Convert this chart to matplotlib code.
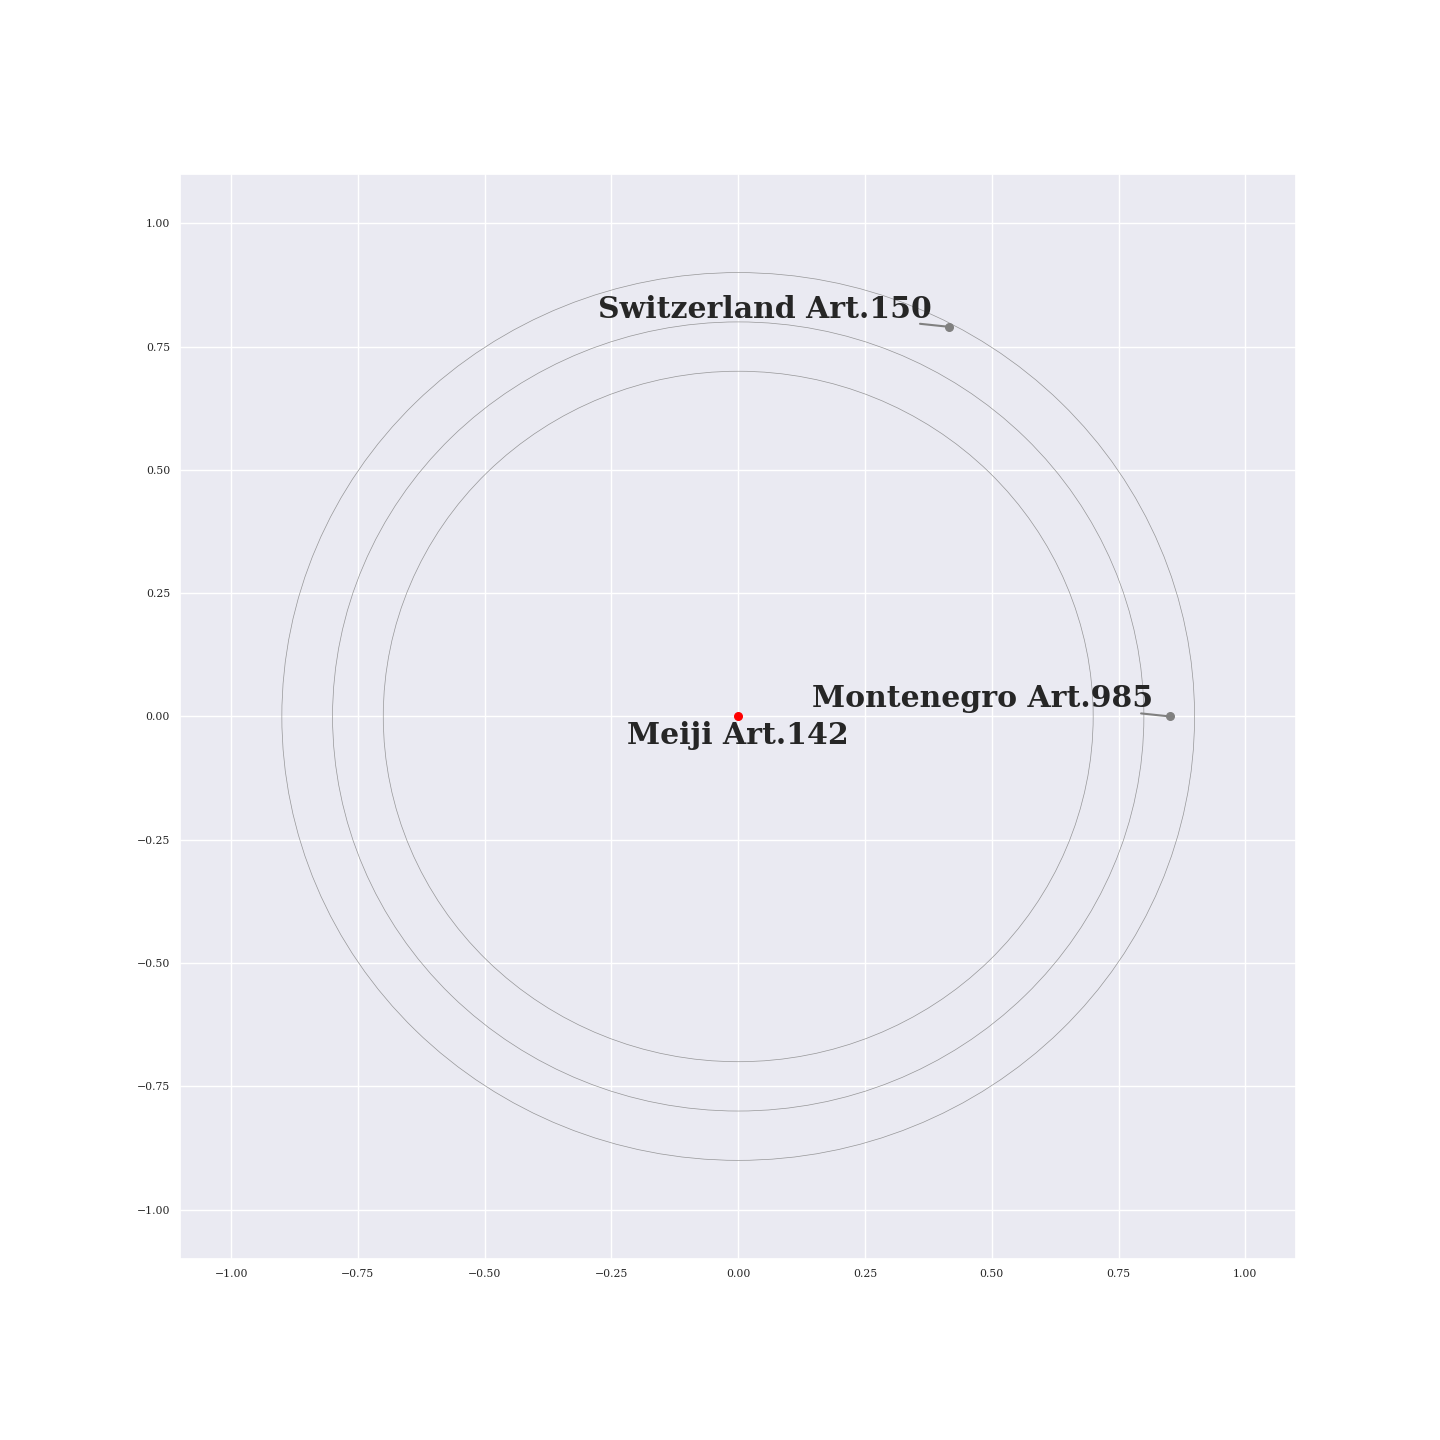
import matplotlib
matplotlib.use("Agg")
import matplotlib.pyplot as plt
import seaborn as sns

# data
center_label = "Meiji Art.142"
names = ["Switzerland Art.150", "Montenegro Art.985"]
xs = [0.416, 0.852]
ys = [0.790, 0.0]
rings = [0.7, 0.8, 0.9]

sns.set_theme(style="darkgrid")
plt.rcParams['font.family'] = ['DejaVu Serif']

fig = plt.figure(figsize=(14.4, 14.4), dpi=100)
ax = fig.add_axes([0.1253, 0.1257, 0.7747, 0.7535])

# rings around the centre
for r in rings:
    ax.add_patch(plt.Circle((0, 0), r, fill=False, color='gray', lw=0.5, alpha=0.8))

# centre point
ax.scatter([0], [0], color='red', s=30, zorder=5)
ax.annotate(center_label, xy=(0, 0), xytext=(-0.5, -20), textcoords='offset points',
            ha='center', va='baseline', fontsize=21.5, fontweight='bold', color='#262626')

# other points, label to the upper left, short leader line
ax.scatter(xs, ys, color='gray', s=30, zorder=5)
for name, x, y in zip(names, xs, ys):
    ax.annotate(name, xy=(x, y), xytext=(-12.2, 6.5), textcoords='offset points',
                ha='right', va='baseline', fontsize=21.5, fontweight='bold', color='#262626')
    ax.annotate('', xy=(x, y), xytext=(-21, 2.2), textcoords='offset points',
                arrowprops=dict(arrowstyle='-', color='gray', lw=1.5, shrinkA=0, shrinkB=0))

ax.set_xlim(-1.1, 1.1)
ax.set_ylim(-1.1, 1.1)
ax.tick_params(labelsize=7.8, length=0, pad=7.5)

plt.savefig("out.png", dpi=100)
